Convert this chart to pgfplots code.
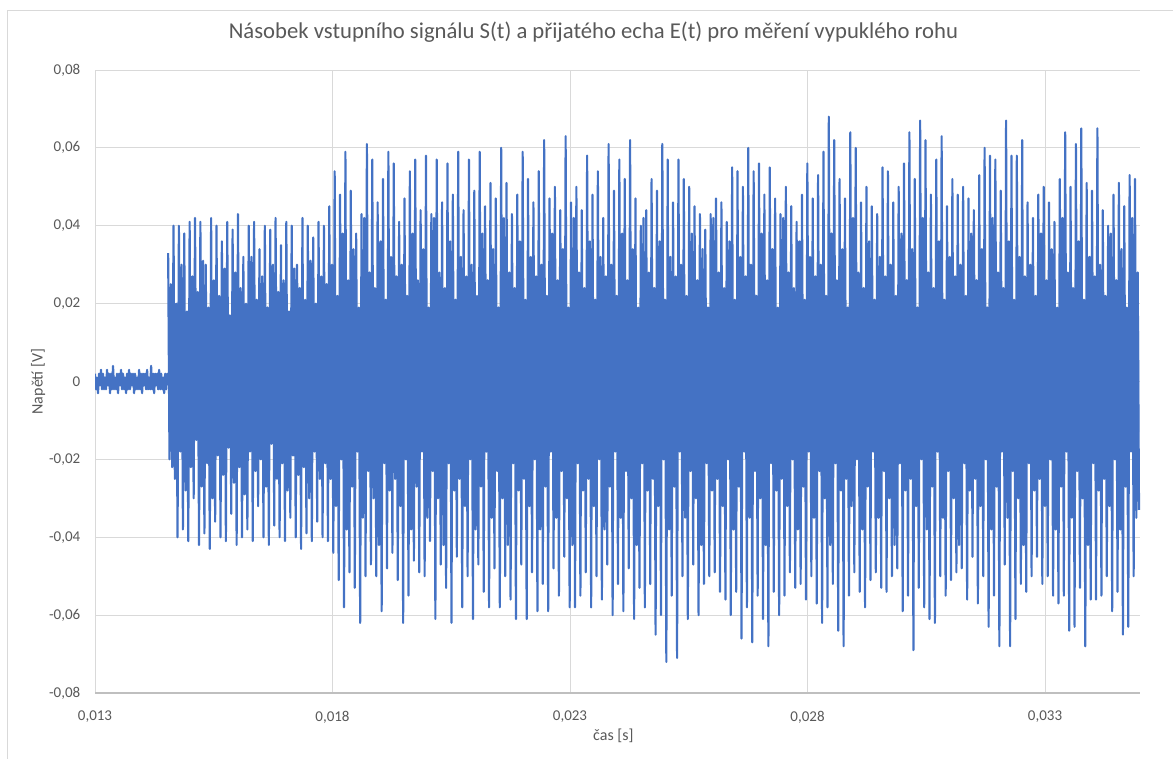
\documentclass[border=0pt]{standalone}
\usepackage{pgfplots}
\pgfplotsset{compat=1.18}
\usepackage{pgfplotstable}
\usepackage{fontspec}
\setmainfont{Carlito}
\definecolor{excelblue}{HTML}{4472C4}
\definecolor{gridgray}{HTML}{D9D9D9}
\definecolor{txtgray}{HTML}{595959}
\definecolor{axgray}{HTML}{BFBFBF}

% noise before the echo: samples every 0.0000211 s from 0.013 s
\pgfplotstableread[row sep=\\]{
y\\
0.002\\ -0.002\\ 0.001\\ -0.003\\ 0.002\\ -0.001\\ 0.003\\ -0.002\\ 0.002\\ -0.002\\
0.001\\ -0.002\\ 0.003\\ -0.001\\ 0.002\\ -0.003\\ 0.002\\ -0.002\\ 0.004\\ -0.002\\
0.001\\ -0.002\\ 0.002\\ -0.003\\ 0.002\\ -0.001\\ 0.003\\ -0.002\\ 0.002\\ -0.002\\
0.001\\ -0.003\\ 0.002\\ -0.002\\ 0.003\\ -0.002\\ 0.002\\ -0.001\\ 0.002\\ -0.003\\
0.002\\ -0.002\\ 0.001\\ -0.002\\ 0.003\\ -0.002\\ 0.002\\ -0.003\\ 0.002\\ -0.001\\
0.002\\ -0.002\\ 0.003\\ -0.002\\ 0.001\\ -0.002\\ 0.004\\ -0.002\\ 0.002\\ -0.003\\
0.002\\ -0.001\\ 0.002\\ -0.002\\ 0.003\\ -0.002\\ 0.002\\ -0.002\\ 0.001\\ -0.003\\
0.002\\ -0.002\\ 0.002\\ -0.001\\
}\noisetable

% product signal: samples every 0.00002827 s from 0.01454 s
\pgfplotstableread[row sep=\\]{
y\\
0.033\\ -0.020\\ 0.025\\ -0.022\\
0.040\\ -0.025\\ 0.020\\ -0.040\\
0.040\\ -0.018\\ 0.030\\ -0.038\\
0.038\\ -0.028\\ 0.018\\ -0.041\\
0.041\\ -0.022\\ 0.027\\ -0.030\\
0.042\\ -0.015\\ 0.023\\ -0.042\\
0.041\\ -0.027\\ 0.031\\ -0.039\\
0.030\\ -0.021\\ 0.019\\ -0.043\\
0.042\\ -0.030\\ 0.026\\ -0.036\\
0.040\\ -0.019\\ 0.022\\ -0.040\\
0.036\\ -0.024\\ 0.029\\ -0.041\\
0.041\\ -0.017\\ 0.017\\ -0.034\\
0.039\\ -0.026\\ 0.028\\ -0.042\\
0.043\\ -0.022\\ 0.024\\ -0.040\\
0.032\\ -0.029\\ 0.020\\ -0.038\\
0.040\\ -0.018\\ 0.032\\ -0.041\\
0.041\\ -0.023\\ 0.021\\ -0.032\\
0.034\\ -0.020\\ 0.027\\ -0.040\\
0.040\\ -0.027\\ 0.019\\ -0.042\\
0.039\\ -0.016\\ 0.030\\ -0.037\\
0.042\\ -0.025\\ 0.023\\ -0.040\\
0.035\\ -0.021\\ 0.026\\ -0.041\\
0.041\\ -0.028\\ 0.018\\ -0.035\\
0.040\\ -0.019\\ 0.029\\ -0.040\\
0.030\\ -0.024\\ 0.024\\ -0.043\\
0.042\\ -0.022\\ 0.021\\ -0.039\\
0.040\\ -0.030\\ 0.031\\ -0.041\\
0.037\\ -0.018\\ 0.020\\ -0.036\\
0.041\\ -0.025\\ 0.027\\ -0.040\\
0.040\\ -0.021\\ 0.025\\ -0.041\\
0.045\\ -0.025\\ 0.030\\ -0.044\\
0.054\\ -0.032\\ 0.022\\ -0.051\\
0.048\\ -0.020\\ 0.038\\ -0.058\\
0.059\\ -0.038\\ 0.026\\ -0.049\\
0.049\\ -0.027\\ 0.034\\ -0.053\\
0.038\\ -0.018\\ 0.019\\ -0.062\\
0.043\\ -0.035\\ 0.042\\ -0.050\\
0.061\\ -0.023\\ 0.028\\ -0.047\\
0.057\\ -0.030\\ 0.024\\ -0.050\\
0.046\\ -0.042\\ 0.036\\ -0.059\\
0.052\\ -0.021\\ 0.021\\ -0.048\\
0.059\\ -0.028\\ 0.032\\ -0.044\\
0.056\\ -0.025\\ 0.027\\ -0.051\\
0.041\\ -0.032\\ 0.030\\ -0.062\\
0.047\\ -0.020\\ 0.022\\ -0.055\\
0.054\\ -0.038\\ 0.038\\ -0.046\\
0.057\\ -0.027\\ 0.026\\ -0.049\\
0.044\\ -0.018\\ 0.034\\ -0.050\\
0.058\\ -0.035\\ 0.019\\ -0.041\\
0.043\\ -0.023\\ 0.042\\ -0.061\\
0.057\\ -0.030\\ 0.028\\ -0.047\\
0.046\\ -0.042\\ 0.024\\ -0.053\\
0.056\\ -0.021\\ 0.036\\ -0.062\\
0.048\\ -0.028\\ 0.021\\ -0.045\\
0.059\\ -0.025\\ 0.032\\ -0.058\\
0.044\\ -0.032\\ 0.027\\ -0.050\\
0.057\\ -0.020\\ 0.030\\ -0.061\\
0.049\\ -0.038\\ 0.022\\ -0.047\\
0.059\\ -0.027\\ 0.038\\ -0.054\\
0.045\\ -0.018\\ 0.026\\ -0.058\\
0.051\\ -0.035\\ 0.034\\ -0.048\\
0.047\\ -0.023\\ 0.019\\ -0.058\\
0.060\\ -0.030\\ 0.042\\ -0.050\\
0.051\\ -0.042\\ 0.028\\ -0.056\\
0.043\\ -0.021\\ 0.024\\ -0.061\\
0.048\\ -0.028\\ 0.036\\ -0.047\\
0.059\\ -0.025\\ 0.021\\ -0.061\\
0.052\\ -0.032\\ 0.032\\ -0.049\\
0.046\\ -0.020\\ 0.027\\ -0.059\\
0.054\\ -0.038\\ 0.030\\ -0.052\\
0.062\\ -0.027\\ 0.022\\ -0.059\\
0.047\\ -0.018\\ 0.038\\ -0.048\\
0.050\\ -0.035\\ 0.026\\ -0.055\\
0.044\\ -0.023\\ 0.034\\ -0.045\\
0.063\\ -0.030\\ 0.019\\ -0.058\\
0.046\\ -0.042\\ 0.042\\ -0.058\\
0.050\\ -0.021\\ 0.028\\ -0.055\\
0.044\\ -0.028\\ 0.024\\ -0.049\\
0.058\\ -0.025\\ 0.036\\ -0.058\\
0.048\\ -0.032\\ 0.021\\ -0.050\\
0.054\\ -0.020\\ 0.032\\ -0.056\\
0.042\\ -0.038\\ 0.027\\ -0.047\\
0.061\\ -0.027\\ 0.030\\ -0.060\\
0.049\\ -0.018\\ 0.022\\ -0.052\\
0.057\\ -0.035\\ 0.038\\ -0.059\\
0.052\\ -0.023\\ 0.026\\ -0.048\\
0.062\\ -0.030\\ 0.034\\ -0.061\\
0.047\\ -0.042\\ 0.019\\ -0.053\\
0.040\\ -0.021\\ 0.042\\ -0.058\\
0.044\\ -0.028\\ 0.028\\ -0.052\\
0.052\\ -0.025\\ 0.024\\ -0.065\\
0.049\\ -0.032\\ 0.036\\ -0.060\\
0.061\\ -0.020\\ 0.021\\ -0.072\\
0.057\\ -0.038\\ 0.032\\ -0.055\\
0.046\\ -0.027\\ 0.027\\ -0.071\\
0.057\\ -0.018\\ 0.030\\ -0.050\\
0.052\\ -0.035\\ 0.022\\ -0.061\\
0.050\\ -0.023\\ 0.038\\ -0.047\\
0.045\\ -0.030\\ 0.026\\ -0.060\\
0.043\\ -0.042\\ 0.034\\ -0.052\\
0.039\\ -0.021\\ 0.019\\ -0.050\\
0.043\\ -0.028\\ 0.042\\ -0.049\\
0.047\\ -0.025\\ 0.028\\ -0.054\\
0.046\\ -0.032\\ 0.024\\ -0.056\\
0.041\\ -0.020\\ 0.036\\ -0.060\\
0.055\\ -0.038\\ 0.021\\ -0.054\\
0.054\\ -0.027\\ 0.032\\ -0.066\\
0.050\\ -0.018\\ 0.027\\ -0.058\\
0.060\\ -0.035\\ 0.030\\ -0.067\\
0.054\\ -0.023\\ 0.022\\ -0.055\\
0.056\\ -0.030\\ 0.038\\ -0.061\\
0.048\\ -0.042\\ 0.026\\ -0.068\\
0.055\\ -0.021\\ 0.034\\ -0.054\\
0.047\\ -0.028\\ 0.019\\ -0.060\\
0.043\\ -0.025\\ 0.042\\ -0.055\\
0.050\\ -0.032\\ 0.028\\ -0.049\\
0.045\\ -0.020\\ 0.024\\ -0.053\\
0.041\\ -0.038\\ 0.036\\ -0.052\\
0.048\\ -0.027\\ 0.021\\ -0.056\\
0.056\\ -0.018\\ 0.032\\ -0.050\\
0.047\\ -0.035\\ 0.027\\ -0.057\\
0.053\\ -0.023\\ 0.030\\ -0.062\\
0.059\\ -0.030\\ 0.022\\ -0.058\\
0.068\\ -0.042\\ 0.038\\ -0.052\\
0.062\\ -0.021\\ 0.026\\ -0.064\\
0.052\\ -0.028\\ 0.034\\ -0.068\\
0.047\\ -0.025\\ 0.019\\ -0.055\\
0.064\\ -0.032\\ 0.042\\ -0.049\\
0.060\\ -0.020\\ 0.028\\ -0.054\\
0.046\\ -0.038\\ 0.024\\ -0.058\\
0.050\\ -0.027\\ 0.036\\ -0.051\\
0.045\\ -0.018\\ 0.021\\ -0.049\\
0.043\\ -0.035\\ 0.032\\ -0.053\\
0.055\\ -0.023\\ 0.027\\ -0.054\\
0.054\\ -0.030\\ 0.030\\ -0.050\\
0.046\\ -0.042\\ 0.022\\ -0.048\\
0.050\\ -0.021\\ 0.038\\ -0.059\\
0.056\\ -0.028\\ 0.026\\ -0.055\\
0.064\\ -0.025\\ 0.034\\ -0.069\\
0.052\\ -0.032\\ 0.019\\ -0.053\\
0.067\\ -0.020\\ 0.042\\ -0.058\\
0.062\\ -0.038\\ 0.028\\ -0.061\\
0.048\\ -0.027\\ 0.024\\ -0.062\\
0.057\\ -0.018\\ 0.036\\ -0.050\\
0.063\\ -0.035\\ 0.021\\ -0.055\\
0.045\\ -0.023\\ 0.032\\ -0.051\\
0.052\\ -0.030\\ 0.027\\ -0.049\\
0.048\\ -0.042\\ 0.030\\ -0.048\\
0.050\\ -0.021\\ 0.022\\ -0.056\\
0.047\\ -0.028\\ 0.038\\ -0.045\\
0.044\\ -0.025\\ 0.026\\ -0.057\\
0.053\\ -0.032\\ 0.034\\ -0.050\\
0.060\\ -0.020\\ 0.019\\ -0.063\\
0.058\\ -0.038\\ 0.042\\ -0.055\\
0.057\\ -0.027\\ 0.028\\ -0.068\\
0.049\\ -0.018\\ 0.024\\ -0.047\\
0.067\\ -0.035\\ 0.036\\ -0.068\\
0.058\\ -0.023\\ 0.021\\ -0.061\\
0.058\\ -0.030\\ 0.032\\ -0.052\\
0.062\\ -0.042\\ 0.027\\ -0.054\\
0.046\\ -0.021\\ 0.030\\ -0.050\\
0.042\\ -0.028\\ 0.022\\ -0.045\\
0.048\\ -0.025\\ 0.038\\ -0.052\\
0.050\\ -0.032\\ 0.026\\ -0.050\\
0.046\\ -0.020\\ 0.034\\ -0.055\\
0.041\\ -0.038\\ 0.019\\ -0.057\\
0.052\\ -0.027\\ 0.042\\ -0.055\\
0.064\\ -0.018\\ 0.028\\ -0.064\\
0.050\\ -0.035\\ 0.024\\ -0.063\\
0.061\\ -0.023\\ 0.036\\ -0.053\\
0.065\\ -0.030\\ 0.021\\ -0.068\\
0.051\\ -0.042\\ 0.032\\ -0.056\\
0.049\\ -0.021\\ 0.027\\ -0.056\\
0.065\\ -0.028\\ 0.030\\ -0.055\\
0.044\\ -0.025\\ 0.022\\ -0.050\\
0.040\\ -0.032\\ 0.038\\ -0.059\\
0.048\\ -0.020\\ 0.026\\ -0.054\\
0.051\\ -0.038\\ 0.034\\ -0.065\\
0.045\\ -0.027\\ 0.019\\ -0.063\\
0.053\\ -0.018\\ 0.042\\ -0.050\\
0.052\\ -0.035\\ 0.028\\ -0.033\\
}\sigtable

\begin{document}
\begin{tikzpicture}
\useasboundingbox (0pt,0pt) rectangle (879.75pt,569.25pt);
\fill[white] (0pt,0pt) rectangle (879.75pt,569.25pt);
\draw[gridgray, line width=0.75pt] (5.25pt,-15pt) -- (5.25pt,561pt) -- (900pt,561pt);
\begin{axis}[
  at={(71.25pt,49.5pt)}, anchor=south west,
  scale only axis, width=783.75pt, height=467.25pt,
  xmin=0.013, xmax=0.035, ymin=-0.08, ymax=0.08,
  scaled x ticks=false, scaled y ticks=false,
  xtick={0.013,0.018,0.023,0.028,0.033},
  xticklabels={{0,013},{0,018},{0,023},{0,028},{0,033}},
  ytick={-0.08,-0.06,-0.04,-0.02,0,0.02,0.04,0.06,0.08},
  yticklabels={{-0,08},{-0,06},{-0,04},{-0,02},{0},{0,02},{0,04},{0,06},{0,08}},
  grid=major, grid style={gridgray, line width=0.75pt},
  axis line style={draw=none}, tick style={draw=none},
  extra y ticks={-0.08}, extra y tick labels={},
  extra y tick style={grid style={axgray, line width=0.9pt}},
  ticklabel style={font=\fontsize{11.25}{13}\selectfont, text=txtgray},
  yticklabel style={xshift=-7.5pt},
  xticklabel style={yshift=-10pt},
  title={Násobek vstupního signálu S(t) a přijatého echa E(t) pro měření vypuklého rohu},
  title style={at={(axis description cs:0.477,1.048)}, anchor=center, font=\fontsize{17}{20}\selectfont, text=txtgray},
  xlabel={čas [s]},
  xlabel style={at={(axis description cs:0.496,-0.069)}, anchor=center, font=\fontsize{12}{14}\selectfont, text=txtgray},
  ylabel={Napětí [V]},
  ylabel style={at={(axis description cs:-0.0545,0.5)}, anchor=center, font=\fontsize{12}{14}\selectfont, text=txtgray},
]
\addplot[fill=excelblue, draw=none] coordinates {
(0.01454,0.010) (0.0150,0.012) (0.0160,0.013) (0.0170,0.013) (0.0180,0.014) (0.0190,0.015) (0.0200,0.015) (0.0210,0.016) (0.0220,0.016) (0.0230,0.017) (0.0240,0.016) (0.0250,0.015) (0.0260,0.014) (0.0270,0.014) (0.0280,0.013) (0.0290,0.014) (0.0300,0.015) (0.0310,0.015) (0.0320,0.014) (0.0330,0.014) (0.0340,0.014) (0.03498,0.013)
(0.03498,-0.013) (0.0340,-0.014) (0.0330,-0.014) (0.0320,-0.015) (0.0310,-0.015) (0.0300,-0.014) (0.0290,-0.014) (0.0280,-0.014) (0.0270,-0.015) (0.0260,-0.015) (0.0250,-0.016) (0.0240,-0.016) (0.0230,-0.015) (0.0220,-0.015) (0.0210,-0.014) (0.0200,-0.014) (0.0190,-0.014) (0.0180,-0.013) (0.0170,-0.012) (0.0160,-0.012) (0.0150,-0.011) (0.01454,-0.010)
};
\addplot[excelblue, line width=1.6pt, line join=round] table[x expr={0.013+\coordindex*0.0000211}, y=y] {\noisetable};
\addplot[excelblue, line width=1.6pt, line join=round] table[x expr={0.01454+\coordindex*0.00002827}, y=y] {\sigtable};
\end{axis}
\end{tikzpicture}
\end{document}
